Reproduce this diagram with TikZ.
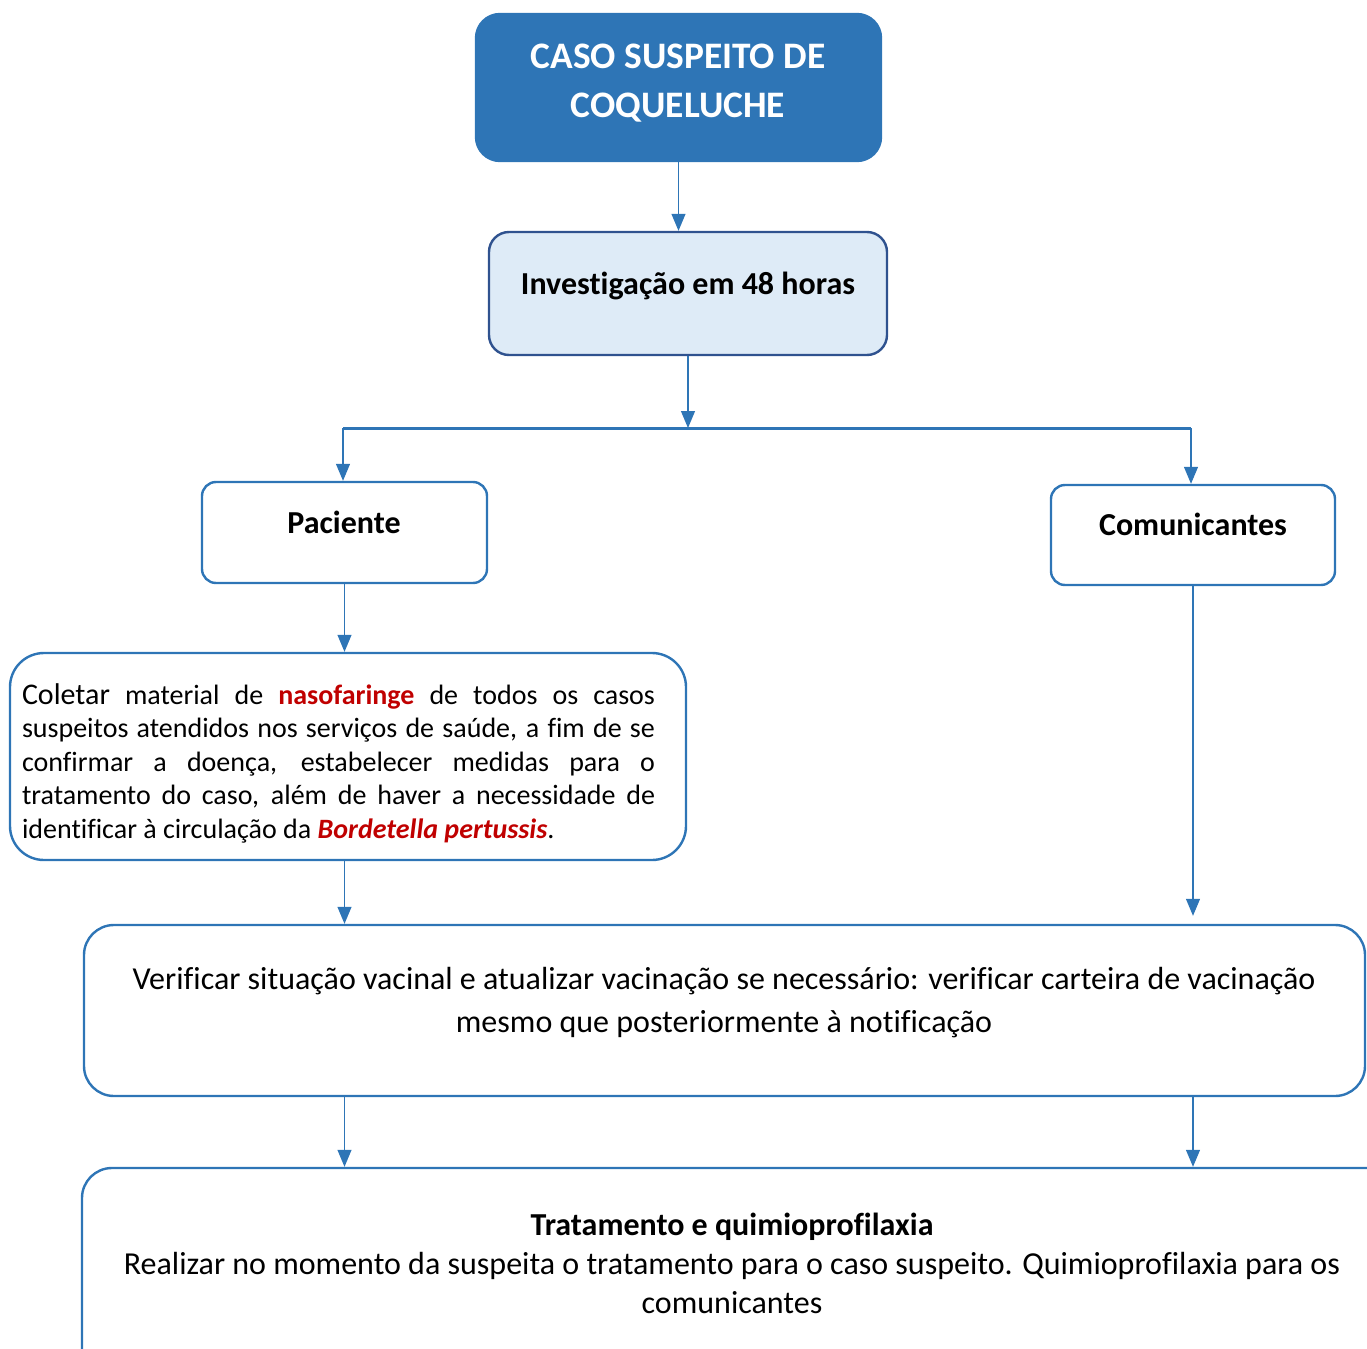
\documentclass[tikz,border=0pt]{standalone}
\usepackage{fontspec}
\setmainfont{Carlito}[Ligatures={NoCommon}]
\usetikzlibrary{arrows.meta,fit}
\definecolor{boxblue}{HTML}{2E75B6}
\definecolor{darkblue}{HTML}{2F528F}
\definecolor{paleblue}{HTML}{DEEBF7}
\definecolor{darkred}{HTML}{C00000}
\begin{document}
\begin{tikzpicture}[x=0.5pt, y=-0.5pt,
    box/.style={draw=boxblue, line width=1.2pt, rounded corners=#1, inner sep=0pt},
    box/.default=8pt,
    link/.style={draw=boxblue, line width=0.6pt, -{Triangle[width=7pt,length=8.5pt]}},
    title/.style={font=\bfseries\fontsize{16}{19}\selectfont}]
    \useasboundingbox (0,0) rectangle (1367,1349);
    \clip (0,0) rectangle (1367,1349);

    % boxes
    \node[box=12pt, fill=boxblue, fit={(476,14) (881,161)}] (caso) {};
    \node[text=white, align=center, font=\bfseries\fontsize{18.7}{24.5}\selectfont] (casotxt) at (678,83) {CASO SUSPEITO DE\\COQUELUCHE};

    \node[box=10pt, draw=darkblue, fill=paleblue, fit={(489,232) (887,355)}] (invest) {};
    \node[title] (investtxt) at (688,286) {Investigação em 48 horas};

    \node[box=7pt, fit={(202,482) (487,583)}] (pac) {};
    \node[title] (pactxt) at (344,522) {Paciente};
    \node[box=7pt, fit={(1051,485) (1335,585)}] (com) {};
    \node[title] (comtxt) at (1193,524) {Comunicantes};

    \node[box=17pt, fit={(10,653) (686,860)}] (coleta) {};
    \node[text width=316.5pt, align=justify, font=\fontsize{14}{16.75}\selectfont] (coletatxt) at (338.5,763)
        {{\fontsize{15}{16.75}\selectfont Coletar} material de \textcolor{darkred}{\textbf{nasofaringe}} de todos os casos\linebreak
        suspeitos atendidos nos serviços de saúde, a fim de se\linebreak
        confirmar a doença, estabelecer medidas para o\linebreak
        tratamento do caso, além de haver a necessidade de\linebreak
        identificar à circulação da \textcolor{darkred}{\textbf{\textit{Bordetella pertussis}}}.};

    \node[box=15pt, fit={(84,925) (1365,1096)}] (verif) {};
    \node[align=center, font=\fontsize{16}{21.5}\selectfont] (veriftxt) at (724,1003)
        {Verificar situação vacinal e atualizar vacinação se necessário: verificar carteira de vacinação\\mesmo que posteriormente à notificação};

    \node[box=15pt, fit={(82,1168) (1400,1420)}] (trat) {};
    \node[align=center, font=\fontsize{16}{19.5}\selectfont] (trattxt) at (732,1263)
        {\textbf{Tratamento e quimioprofilaxia}\\Realizar no momento da suspeita o tratamento para o caso suspeito. Quimioprofilaxia para os\\comunicantes};

    % connectors
    \coordinate (busL) at (343,428);
    \coordinate (busR) at (1191,428);
    \draw[link] (caso.south) -- (caso.south |- invest.north);
    \draw[link] (invest.south) -- (invest.south |- busL);
    \draw[boxblue, line width=1.5pt] (busL) -- (busR);
    \draw[link] (busL) -- (busL |- pac.north);
    \draw[link] (busR) -- (busR |- com.north);
    \draw[link] (pac.south) -- (pac.south |- coleta.north);
    \draw[link] (coleta.south -| pac.south) -- (pac.south |- verif.north);
    \draw[link, shorten >=4pt] (com.south) -- (com.south |- verif.north);
    \draw[link] (verif.south -| pac.south) -- (pac.south |- trat.north);
    \draw[link] (verif.south -| com.south) -- (com.south |- trat.north);
\end{tikzpicture}
\end{document}
